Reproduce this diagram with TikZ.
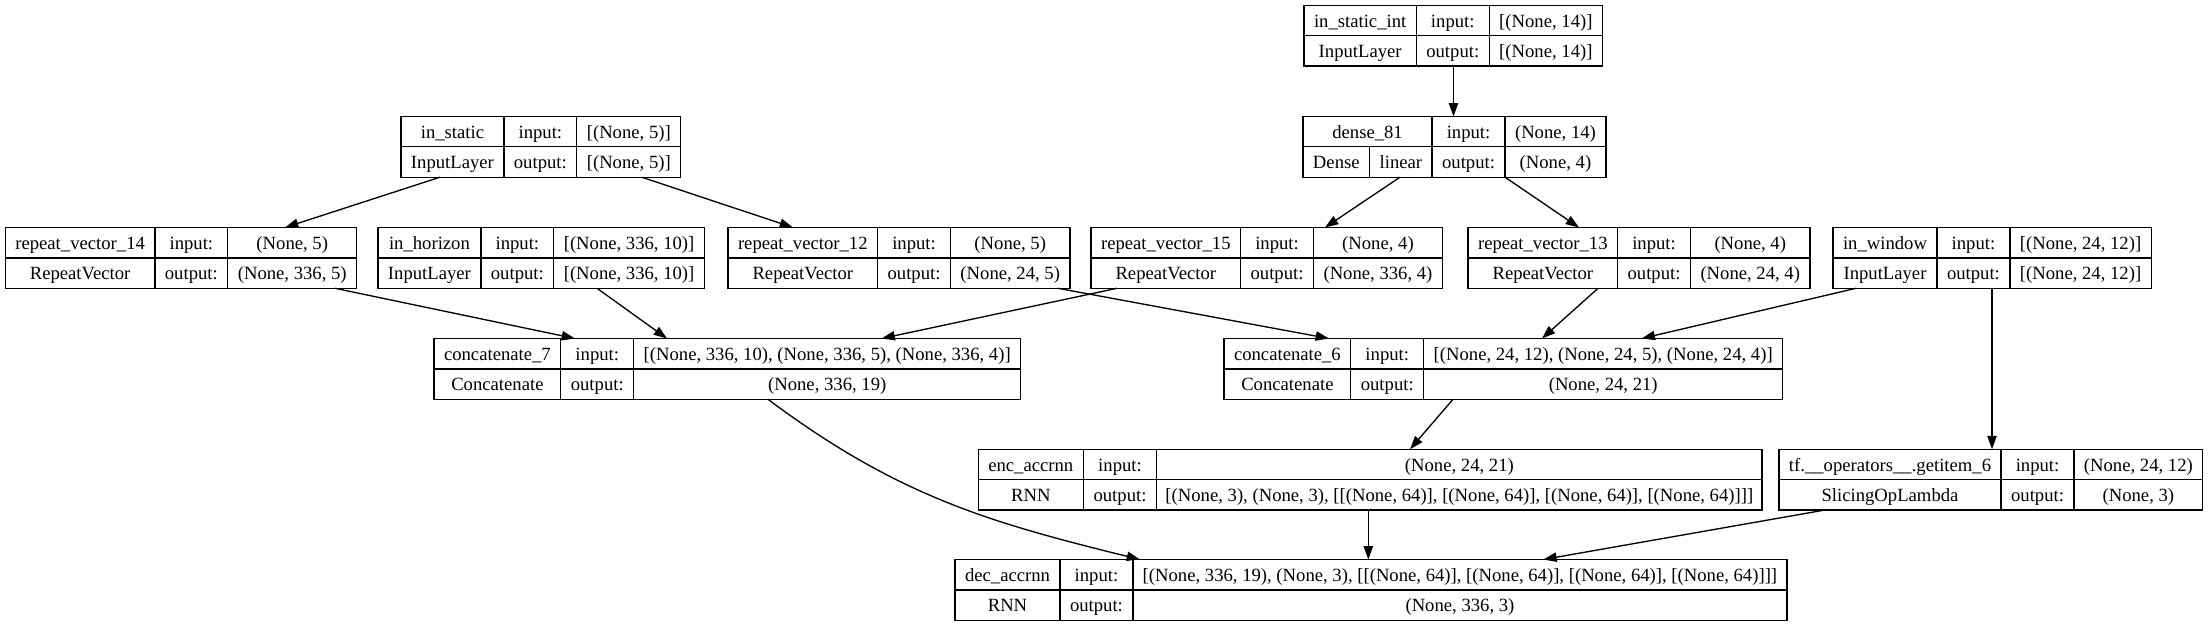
\documentclass[tikz,border=0pt]{standalone}
\usepackage{fontspec}
\setmainfont{Liberation Serif}
\usetikzlibrary{arrows.meta,calc}
\tikzset{
  kframe/.style={draw=black, line width=1pt, inner sep=0pt, outer sep=0pt, minimum height=45.6pt},
  kline/.style={draw=black, line width=1pt},
  ktxt/.style={anchor=base, inner sep=0pt, font=\fontsize{14}{16.8}\selectfont},
  arr/.style={draw=black, line width=1pt, -{Triangle[length=10pt,width=7pt]}}
}
% #1 name, #2 x0, #3 x1, #4 x2, #5 x3, #6 ytop, #7 name text, #8 type text
\newcommand{\kbox}[8]{%
  \node[kframe, minimum width={(#5-#2)*0.75pt}, anchor=north west] (#1) at (#2,#6) {};
  \draw[kline] (#2,#6+30.4) -- (#5,#6+30.4);
  \draw[kline] (#3,#6) -- (#3,#6+60.8);
  \draw[kline] (#4,#6) -- (#4,#6+60.8);
  \node[ktxt] at ({(#2+#3)/2},#6+22) {#7};
  \node[ktxt] at ({(#2+#3)/2},#6+52.4) {#8};
  \node[ktxt] at ({(#3+#4)/2},#6+22) {input:};
  \node[ktxt] at ({(#3+#4)/2},#6+52.4) {output:};
}
% #1 x2, #2 x3, #3 ytop, #4 in, #5 out
\newcommand{\kshp}[5]{%
  \node[ktxt] at ({(#1+#2)/2},#3+22) {#4};
  \node[ktxt] at ({(#1+#2)/2},#3+52.4) {#5};
}
\begin{document}
\begin{tikzpicture}[x=0.75pt,y=-0.75pt]
\useasboundingbox[fill=white] (0,0) rectangle (2208,627);
% row 0
\kbox{isi}{1304}{1416.3}{1489.2}{1602.5}{5.33}{in\_static\_int}{InputLayer}
\kshp{1489.2}{1602.5}{5.33}{[(None, 14)]}{[(None, 14)]}
% row 1
\kbox{ist}{401}{503.9}{576.8}{680.8}{116.4}{in\_static}{InputLayer}
\kshp{576.8}{680.8}{116.4}{[(None, 5)]}{[(None, 5)]}
\kbox{dense}{1303}{1432.1}{1505}{1605.9}{116.4}{dense\_81}{}
\draw[kline] (1369.6,146.8) -- (1369.6,177.2);
\node[ktxt] at ({(1303+1369.6)/2},168.8) {Dense};
\node[ktxt] at ({(1369.6+1432.1)/2},168.8) {linear};
\kshp{1505}{1605.9}{116.4}{(None, 14)}{(None, 4)}
% row 2
\kbox{rv14}{5.33}{154.9}{227.8}{356.7}{227.5}{repeat\_vector\_14}{RepeatVector}
\kshp{227.8}{356.7}{227.5}{(None, 5)}{(None, 336, 5)}
\kbox{inh}{378}{480.9}{553.8}{704.4}{227.5}{in\_horizon}{InputLayer}
\kshp{553.8}{704.4}{227.5}{[(None, 336, 10)]}{[(None, 336, 10)]}
\kbox{rv12}{728}{877.6}{950.5}{1070}{227.5}{repeat\_vector\_12}{RepeatVector}
\kshp{950.5}{1070}{227.5}{(None, 5)}{(None, 24, 5)}
\kbox{rv15}{1091}{1240.6}{1313.5}{1442.4}{227.5}{repeat\_vector\_15}{RepeatVector}
\kshp{1313.5}{1442.4}{227.5}{(None, 4)}{(None, 336, 4)}
\kbox{rv13}{1468}{1617.6}{1690.5}{1810}{227.5}{repeat\_vector\_13}{RepeatVector}
\kshp{1690.5}{1810}{227.5}{(None, 4)}{(None, 24, 4)}
\kbox{inw}{1833}{1937}{2009.9}{2151.2}{227.5}{in\_window}{InputLayer}
\kshp{2009.9}{2151.2}{227.5}{[(None, 24, 12)]}{[(None, 24, 12)]}
% row 3
\kbox{cc7}{434}{560.8}{633.7}{1020.7}{338.5}{concatenate\_7}{Concatenate}
\kshp{633.7}{1020.7}{338.5}{[(None, 336, 10), (None, 336, 5), (None, 336, 4)]}{(None, 336, 19)}
\kbox{cc6}{1224}{1350.8}{1423.7}{1782.7}{338.5}{concatenate\_6}{Concatenate}
\kshp{1423.7}{1782.7}{338.5}{[(None, 24, 12), (None, 24, 5), (None, 24, 4)]}{(None, 24, 21)}
% row 4
\kbox{enc}{978.3}{1083.3}{1156.7}{1762}{449.2}{enc\_accrnn}{RNN}
\kshp{1156.7}{1762}{449.2}{(None, 24, 21)}{[(None, 3), (None, 3), [[(None, 64)], [(None, 64)], [(None, 64)], [(None, 64)]]]}
\kbox{tf}{1779}{2001}{2074}{2202.7}{449.2}{tf.\_\_operators\_\_.getitem\_6}{SlicingOpLambda}
\kshp{2074}{2202.7}{449.2}{(None, 24, 12)}{(None, 3)}
% row 5
\kbox{dec}{955}{1060}{1132.9}{1787}{559.5}{dec\_accrnn}{RNN}
\kshp{1132.9}{1787}{559.5}{[(None, 336, 19), (None, 3), [[(None, 64)], [(None, 64)], [(None, 64)], [(None, 64)]]]}{(None, 336, 3)}
% edges
\draw[arr] ($(isi.south west)+(149.5,0)$) -- ($(dense.north west)+(150.5,0)$);
\draw[arr] ($(ist.south west)+(39,0)$) -- ($(rv14.north west)+(279.7,0)$);
\draw[arr] ($(ist.south west)+(240.7,0)$) -- ($(rv12.north west)+(65,0)$);
\draw[arr] ($(dense.south west)+(97,0)$) -- ($(rv15.north west)+(234,0)$);
\draw[arr] ($(dense.south west)+(202,0)$) -- ($(rv13.north west)+(111,0)$);
\draw[arr] ($(rv14.south west)+(329.7,0)$) -- ($(cc7.north west)+(141,0)$);
\draw[arr] ($(inh.south west)+(219,0)$) -- ($(cc7.north west)+(233,0)$);
\draw[arr] ($(rv15.south west)+(26,0)$) -- ($(cc7.north west)+(447.6,0)$);
\draw[arr] ($(rv12.south west)+(330,0)$) -- ($(cc6.north west)+(105,0)$);
\draw[arr] ($(rv13.south west)+(130,0)$) -- ($(cc6.north west)+(318,0)$);
\draw[arr] ($(inw.south west)+(23,0)$) -- ($(cc6.north west)+(417.7,0)$);
\draw[arr] ($(inw.south west)+(159,0)$) -- ($(tf.north west)+(213,0)$);
\draw[arr] ($(cc6.south west)+(229,0)$) -- ($(enc.north west)+(431.7,0)$);
\draw[arr] ($(cc7.south west)+(334,0)$) .. controls (898,496.5) and (990,522.5) .. ($(dec.north west)+(185,0)$);
\draw[arr] ($(enc.south west)+(390,0)$) -- ($(dec.north west)+(413.3,0)$);
\draw[arr] ($(tf.south west)+(46,0)$) -- ($(dec.north west)+(588.3,0)$);
\end{tikzpicture}
\end{document}
